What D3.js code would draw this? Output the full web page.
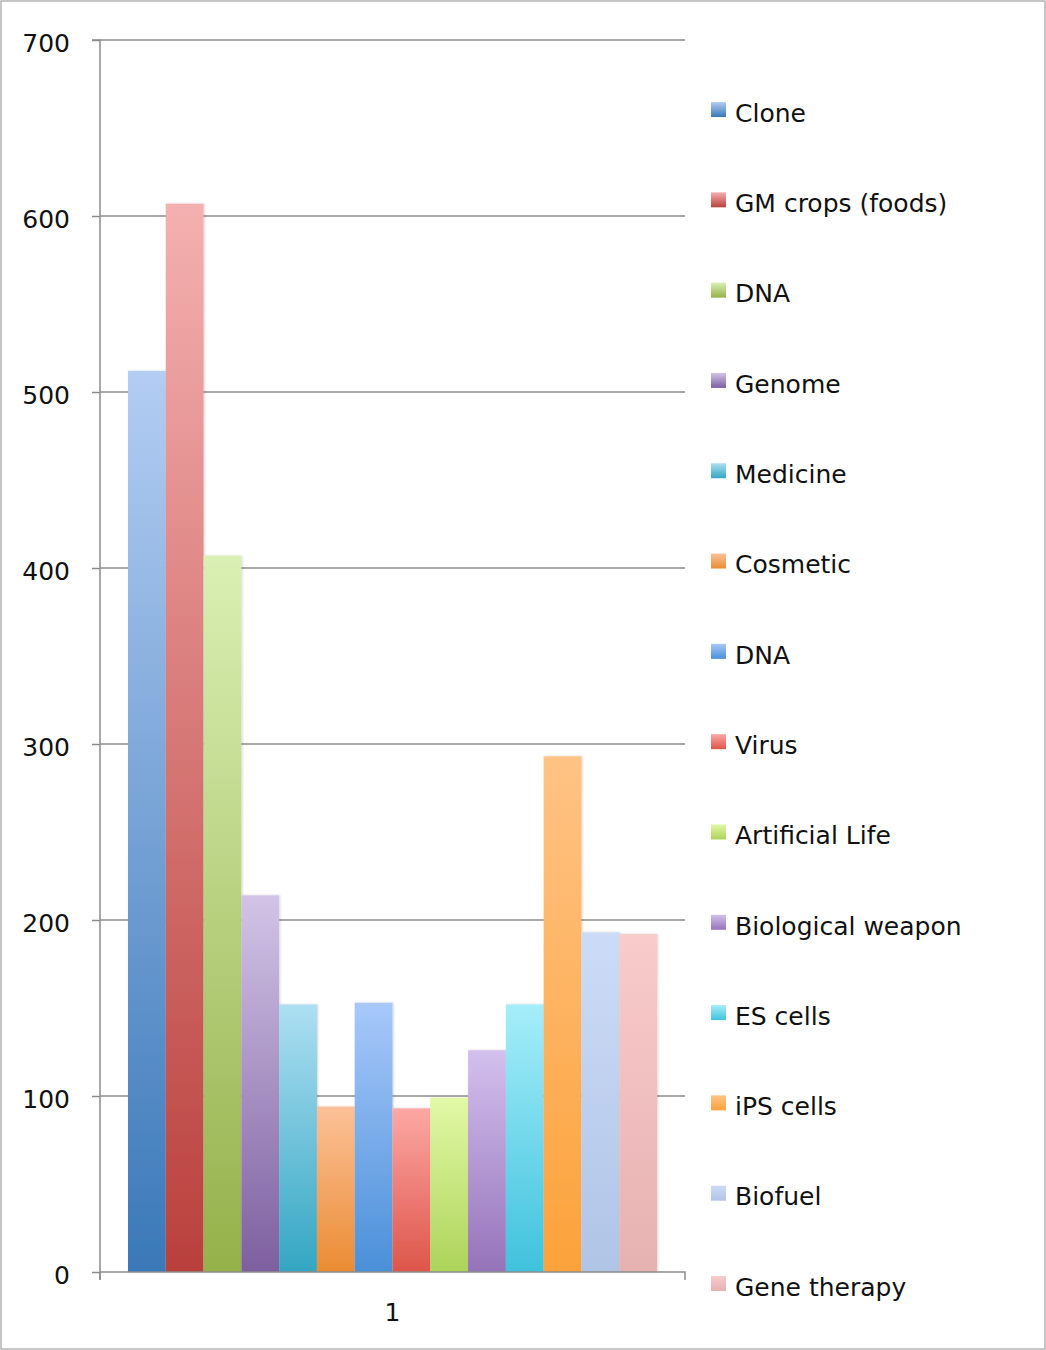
<!DOCTYPE html>
<html>
<head>
<meta charset="utf-8">
<script src="https://cdn.jsdelivr.net/npm/d3@7"></script>
<style>
  body { margin: 0; background: #fff; }
  text { font-family: "DejaVu Sans", sans-serif; fill: #111; }
</style>
</head>
<body>
<div id="chart"></div>
<script>
// data
var categories = ["1"];
var seriesNames = ["Clone", "GM crops (foods)", "DNA", "Genome", "Medicine", "Cosmetic",
    "DNA", "Virus", "Artificial Life", "Biological weapon", "ES cells", "iPS cells",
    "Biofuel", "Gene therapy"];
var seriesValues = [512, 607, 407, 214, 152, 94, 153, 93, 99, 126, 152, 293, 193, 192];
var yTicks = [0, 100, 200, 300, 400, 500, 600, 700];
// gradient colours per series: [top, bottom]
var seriesColors = [
    ["#b3cdf3", "#3a78b8"], ["#f4b0b0", "#b9403c"], ["#daf0b4", "#94b14a"],
    ["#d2c4e6", "#7d5fa0"], ["#addff2", "#33a6c2"], ["#fcc198", "#ea8c33"],
    ["#a8c8fa", "#4a90d9"], ["#fda8a4", "#dd5549"], ["#e2f9a6", "#add35a"],
    ["#d3c0ee", "#9573ba"], ["#a5eefa", "#40c2dd"], ["#ffc384", "#fca23a"],
    ["#ccdcf7", "#b0c4e6"], ["#f9cbcb", "#e6b1b1"]
];

var W = 1046, H = 1350;
var margin = { top: 40, left: 100 };
var plotW = 585, plotH = 1232;

var svg = d3.select("#chart").append("svg")
    .attr("width", W).attr("height", H);

// outer frame
svg.append("rect")
    .attr("x", 1).attr("y", 1).attr("width", W - 2).attr("height", H - 2)
    .attr("fill", "none").attr("stroke", "#b4b4b4").attr("stroke-width", 1.5);

var defs = svg.append("defs");
seriesColors.forEach(function (c, i) {
    var g = defs.append("linearGradient")
        .attr("id", "grad" + i)
        .attr("x1", 0).attr("y1", 0).attr("x2", 0).attr("y2", 1);
    g.append("stop").attr("offset", "0%").attr("stop-color", c[0]);
    g.append("stop").attr("offset", "100%").attr("stop-color", c[1]);
});
var shadow = defs.append("filter").attr("id", "shadow")
    .attr("x", "-10%").attr("y", "-5%").attr("width", "130%").attr("height", "110%");
shadow.append("feDropShadow")
    .attr("dx", 1).attr("dy", 0).attr("stdDeviation", 1.2)
    .attr("flood-color", "#000").attr("flood-opacity", 0.18);

var g = svg.append("g")
    .attr("transform", "translate(" + margin.left + "," + margin.top + ")");

var yScale = d3.scaleLinear().domain([0, 700]).range([plotH, 0]);
var x0 = d3.scaleBand().domain(categories).range([0, plotW])
    .paddingInner(0).paddingOuter(0.0529);
var x1 = d3.scaleBand().domain(d3.range(seriesNames.length))
    .range([0, x0.bandwidth()]).padding(0);

// gridlines
g.append("g")
    .selectAll("line")
    .data(yTicks.filter(function (d) { return d > 0; }))
    .join("line")
        .attr("x1", 0).attr("x2", plotW)
        .attr("y1", function (d) { return yScale(d); })
        .attr("y2", function (d) { return yScale(d); })
        .attr("stroke", "#8c8c8c").attr("stroke-width", 1.5);

// y axis
var yAxis = g.append("g")
    .call(d3.axisLeft(yScale).tickValues(yTicks).tickSize(8).tickPadding(22));
yAxis.select(".domain").attr("stroke", "#8c8c8c").attr("stroke-width", 1.5)
    .attr("d", "M-8," + yScale(700) + "H0V" + (plotH + 8));
yAxis.selectAll(".tick line").attr("stroke", "#8c8c8c").attr("stroke-width", 1.5);
yAxis.selectAll(".tick text")
    .style("font-family", "DejaVu Sans, sans-serif")
    .style("font-size", "25px").attr("fill", "#111").attr("dy", "0.45em");

// bars
var groups = g.append("g")
    .selectAll("g")
    .data(categories)
    .join("g")
        .attr("transform", function (d) { return "translate(" + x0(d) + ",0)"; });

groups.selectAll("rect")
    .data(seriesValues.map(function (v, i) { return { i: i, v: v }; }))
    .join("rect")
        .attr("x", function (d) { return x1(d.i); })
        .attr("y", function (d) { return yScale(d.v); })
        .attr("width", x1.bandwidth())
        .attr("height", function (d) { return plotH - yScale(d.v); })
        .attr("fill", function (d) { return "url(#grad" + d.i + ")"; })
        .attr("filter", "url(#shadow)");

// x axis
var xAxis = g.append("g")
    .attr("transform", "translate(0," + plotH + ")")
    .call(d3.axisBottom(x0).tickSize(0).tickPadding(31));
xAxis.select(".domain").attr("stroke", "#8c8c8c").attr("stroke-width", 1.5)
    .attr("d", "M0,8V0H" + plotW + "V8");
xAxis.selectAll(".tick text")
    .style("font-family", "DejaVu Sans, sans-serif")
    .style("font-size", "25px").attr("fill", "#111");

// legend
var legend = svg.append("g").attr("transform", "translate(711,0)");
var legendY = d3.scalePoint().domain(d3.range(seriesNames.length))
    .range([113, 1287]);
var items = legend.selectAll("g")
    .data(seriesNames)
    .join("g")
        .attr("transform", function (d, i) { return "translate(0," + legendY(i) + ")"; });
items.append("rect")
    .attr("x", 0).attr("y", -11).attr("width", 15).attr("height", 15)
    .attr("fill", function (d, i) { return "url(#grad" + i + ")"; });
items.append("text")
    .attr("x", 24).attr("y", 0).attr("dy", "0.35em")
    .style("font-size", "25px")
    .text(function (d) { return d; });
</script>
</body>
</html>
